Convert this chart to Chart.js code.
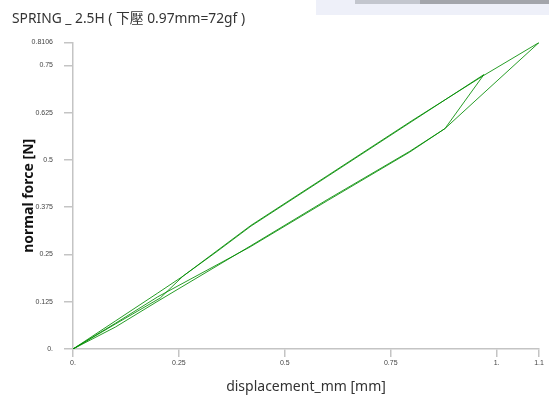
<!DOCTYPE html>
<html>
<head>
<meta charset="utf-8">
<script src="https://cdn.jsdelivr.net/npm/chart.js@4"></script>
<style>
  body { margin: 0; background: #fff; }
  #wrap { position: relative; width: 549px; height: 403px; }
  #chart { position: absolute; left: 0; top: 0; }
  /* screenshot leftover at top right */
  .strip1 { position: absolute; left: 316px; top: 0; width: 233px; height: 15px; background: #eef0f9; }
  .strip2 { position: absolute; left: 355px; top: 0; width: 65px; height: 4px; background: #c3c6ce; }
  .strip3 { position: absolute; left: 420px; top: 0; width: 129px; height: 4px; background: #a3a5ab; }
</style>
</head>
<body>
<div id="wrap">
  <div class="strip1"></div><div class="strip2"></div><div class="strip3"></div>
  <canvas id="chart" width="549" height="403"></canvas>
</div>
<script>
// press down to 0.97 mm and back
const cycle1Disp  = [0, 0.1, 0.2, 0.26, 0.34, 0.42, 0.6, 0.8, 0.97, 0.878, 0.795, 0.6, 0.418, 0.198, 0.1, 0];
const cycle1Force = [0, 0.074, 0.148, 0.193, 0.258, 0.325, 0.456, 0.602, 0.726, 0.583, 0.523, 0.395, 0.272, 0.125, 0.058, 0];

// press down to 1.1 mm and back
const cycle2Disp  = [0, 0.1, 0.206, 0.26, 0.42, 0.6, 0.8, 0.97, 1.1, 0.949, 0.878, 0.795, 0.6, 0.418, 0.2, 0.1, 0];
const cycle2Force = [0, 0.066, 0.135, 0.193, 0.327, 0.458, 0.604, 0.724, 0.8106, 0.656, 0.583, 0.521, 0.392, 0.27, 0.138, 0.068, 0];

const xTicks = [0, 0.25, 0.5, 0.75, 1, 1.1];
const xTickLabels = ["0.", "0.25", "0.5", "0.75", "1.", "1.1"];
const yTicks = [0, 0.125, 0.25, 0.375, 0.5, 0.625, 0.75, 0.8106];
const yTickLabels = ["0.", "0.125", "0.25", "0.375", "0.5", "0.625", "0.75", "0.8106"];

function toPoints(xs, ys) {
  return xs.map((x, i) => ({x: x, y: ys[i]}));
}

const green = 'rgba(0,140,0,0.85)';
const axisGray = '#c4c4c4';
const tickFont = {family: "'Liberation Sans', Arial, sans-serif", size: 7};

new Chart(document.getElementById("chart"), {
    type: 'scatter',
    data: {
      datasets: [
        {
          label: "cycle 1",
          data: toPoints(cycle1Disp, cycle1Force),
          showLine: true,
          borderColor: green,
          borderWidth: 1,
          pointRadius: 0,
          tension: 0
        },
        {
          label: "cycle 2",
          data: toPoints(cycle2Disp, cycle2Force),
          showLine: true,
          borderColor: green,
          borderWidth: 1,
          pointRadius: 0,
          tension: 0
        }
      ]
    },
    options: {
      responsive: false,
      animation: false,
      layout: {padding: {left: 12, right: 10, top: 0, bottom: 0}},
      plugins: {
        legend: {display: false},
        tooltip: {enabled: false},
        title: {
          display: true,
          text: 'SPRING _ 2.5H ( 下壓 0.97mm=72gf )',
          align: 'start',
          color: '#333',
          font: {family: "'Noto Sans', 'Noto Sans CJK TC', sans-serif", size: 13.8, weight: 'normal'},
          padding: {top: 11, bottom: 15}
        }
      },
      scales: {
        x: {
          type: 'linear',
          min: 0,
          max: 1.1,
          afterBuildTicks: (scale) => { scale.ticks = xTicks.map(v => ({value: v})); },
          afterFit: (scale) => { scale.height = 54; },
          ticks: {
            font: tickFont,
            color: '#444',
            padding: 2,
            maxRotation: 0,
            autoSkip: false,
            callback: (value, index) => xTickLabels[index]
          },
          grid: {drawOnChartArea: false, drawTicks: true, tickLength: 8, color: axisGray, lineWidth: 1.5},
          border: {color: axisGray, width: 1.5},
          title: {
            display: true,
            text: 'displacement_mm [mm]',
            color: '#333',
            font: {family: "'Noto Sans', sans-serif", size: 14},
            padding: {top: 8, bottom: 8}
          }
        },
        y: {
          type: 'linear',
          min: 0,
          max: 0.8106,
          afterBuildTicks: (scale) => { scale.ticks = yTicks.map(v => ({value: v})); },
          afterFit: (scale) => { scale.width = 61; },
          ticks: {
            font: tickFont,
            color: '#444',
            padding: 11,
            autoSkip: false,
            callback: (value, index) => yTickLabels[index]
          },
          grid: {drawOnChartArea: false, drawTicks: true, tickLength: 9, color: axisGray, lineWidth: 1.5},
          border: {color: axisGray, width: 1.5},
          title: {
            display: true,
            text: 'normal force [N]',
            color: '#111',
            font: {family: "'Noto Sans', sans-serif", size: 14, weight: 'bold'},
            padding: {top: 9, bottom: 0}
          }
        }
      }
    }
});
</script>
</body>
</html>
